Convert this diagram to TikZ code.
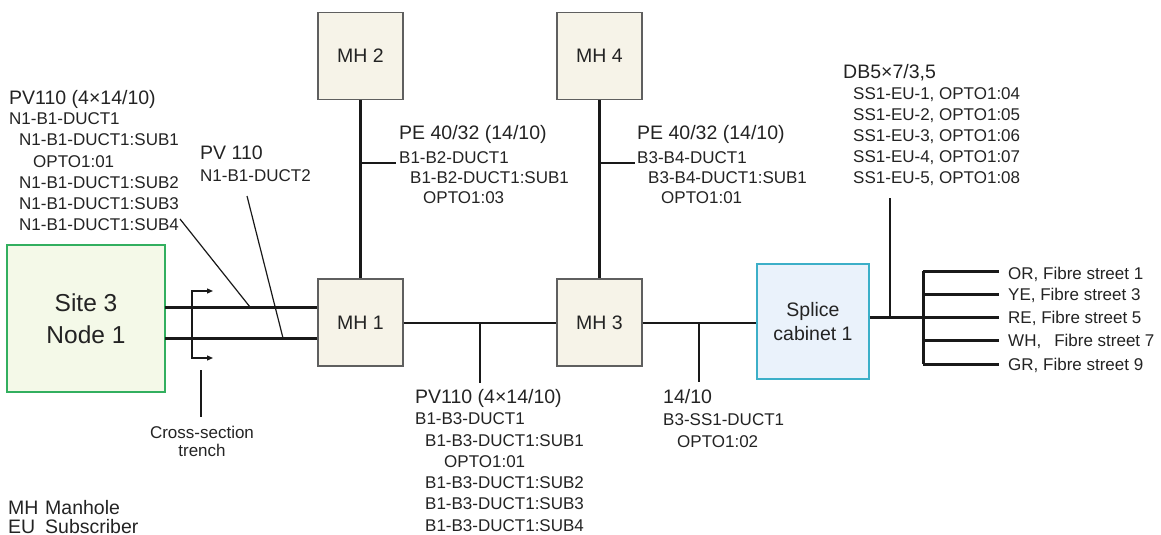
\documentclass[tikz,border=0pt]{standalone}
\usepackage{fontspec}
\setmainfont{Liberation Sans}
\usetikzlibrary{arrows.meta}
\definecolor{txt}{RGB}{35,35,35}
\definecolor{mhfill}{RGB}{246,243,232}
\definecolor{mhdraw}{RGB}{95,95,95}
\definecolor{sitefill}{RGB}{244,249,232}
\definecolor{sitedraw}{RGB}{50,175,95}
\definecolor{spfill}{RGB}{234,242,251}
\definecolor{spdraw}{RGB}{60,175,200}
\begin{document}
\begin{tikzpicture}[x=1pt,y=-1pt,
  mh/.style={draw=mhdraw, fill=mhfill, line width=1.2pt, minimum width=85pt, minimum height=87pt, inner sep=0pt, text=txt, font=\fontsize{19.5}{23}\selectfont},
  sm/.style={font=\fontsize{17}{21}\selectfont, anchor=base west, inner sep=0pt, text=txt},
  bg/.style={font=\fontsize{19.5}{23}\selectfont, anchor=base west, inner sep=0pt, text=txt},
  thk/.style={line width=3pt, black!90},
  med/.style={line width=2pt, black!90},
  thn/.style={line width=1.2pt, black!90}]
\useasboundingbox (0,0) rectangle (1161,535);

% boxes
\node[draw=sitedraw, fill=sitefill, line width=2pt, minimum width=158pt, minimum height=147pt, inner sep=0pt, align=center, text=txt, font=\fontsize{24.5}{32}\selectfont] (site) at (86,318.5) {Site 3\\Node 1};
\node[mh] (mh1) at (360.5,322.5) {MH 1};
\node[mh] (mh2) at (360.5,56) {MH 2};
\node[mh] (mh3) at (599.5,322.5) {MH 3};
\node[mh] (mh4) at (599.5,56) {MH 4};
\node[draw=spdraw, fill=spfill, line width=1.6pt, minimum width=112pt, minimum height=115pt, inner sep=0pt, align=center, text=txt, font=\fontsize{19.5}{24}\selectfont] (sp) at (813,321.5) {Splice\\cabinet 1};

% site to MH1 lines
\coordinate (s1) at (165,307); \coordinate (s2) at (165,338);
\draw[thk] (s1) -- (s1 -| mh1.west);
\draw[thk] (s2) -- (s2 -| mh1.west);

% verticals
\draw[thk] (mh2.south) -- (mh1.north);
\draw[thk] (mh4.south) -- (mh3.north);
\draw[med] (mh1.east) -- (mh3.west);
\draw[med] (mh3.east) -- (mh3.east -| sp.west);

% right fan
\coordinate (fj) at (923,317);
\draw[thk] (sp.east |- fj) -- (fj);
\coordinate (ft) at (923,271); \coordinate (fb) at (923,364);
\draw[thk] (ft) -- (fb);
\foreach \yy/\nm in {271/f1,294/f2,317/f3,340/f4,364/f5}{
  \coordinate (\nm a) at (923,\yy); \coordinate (\nm b) at (999,\yy);
  \draw[thk] (\nm a) -- (\nm b);
}
\node[sm] (fl1) at (1008,279) {OR, Fibre street 1};
\node[sm] (fl2) at (1008,300) {YE, Fibre street 3};
\node[sm] (fl3) at (1008,323) {RE, Fibre street 5};
\node[sm] (fl4) at (1008,346) {WH,\hspace{13pt}Fibre street 7};
\node[sm] (fl5) at (1008,370) {GR, Fibre street 9};

% leader ticks
\coordinate (t1a) at (361,163); \coordinate (t1b) at (396,163);
\draw[thn] (t1a) -- (t1b);
\coordinate (t2a) at (599,163); \coordinate (t2b) at (635,163);
\draw[thn] (t2a) -- (t2b);
\coordinate (t3a) at (480,322.5); \coordinate (t3b) at (480,383);
\draw[thn] (t3a) -- (t3b);
\coordinate (t4a) at (699,322.5); \coordinate (t4b) at (699,382);
\draw[thn] (t4a) -- (t4b);
\coordinate (t5a) at (890,317); \coordinate (t5b) at (890,198);
\draw[thn] (t5a) -- (t5b);
\coordinate (l1a) at (180,219); \coordinate (l1b) at (250,307);
\draw[thn] (l1a) -- (l1b);
\coordinate (l2a) at (247,196); \coordinate (l2b) at (283,338);
\draw[thn] (l2a) -- (l2b);

% cross-section
\coordinate (c1) at (213,291); \coordinate (c2) at (192,291);
\coordinate (c3) at (192,358); \coordinate (c4) at (213,358);
\draw[line width=1.3pt, black!90, {Triangle[length=6pt,width=5pt]}-{Triangle[length=6pt,width=5pt]}] (c1) -- (c2) -- (c3) -- (c4);
\coordinate (p1) at (201,370); \coordinate (p2) at (201,417);
\draw[thn] (p1) -- (p2);
\node[sm, anchor=base] (cs1) at (202,438) {Cross-section};
\node[sm, anchor=base] (cs2) at (202,456) {trench};

% left labels
\node[bg] (a0) at (9,104) {PV110 (4×14/10)};
\node[sm] (a1) at (9,124) {N1-B1-DUCT1};
\node[sm] (a2) at (19,145) {N1-B1-DUCT1:SUB1};
\node[sm] (a3) at (33,167) {OPTO1:01};
\node[sm] (a4) at (19,188) {N1-B1-DUCT1:SUB2};
\node[sm] (a5) at (19,209) {N1-B1-DUCT1:SUB3};
\node[sm] (a6) at (19,230) {N1-B1-DUCT1:SUB4};
\node[bg] (b0) at (200,159) {PV 110};
\node[sm] (b1) at (200,181) {N1-B1-DUCT2};

% MH2 labels
\node[bg] (c0) at (399,139) {PE 40/32 (14/10)};
\node[sm] (cl1) at (399,163) {B1-B2-DUCT1};
\node[sm] (cl2) at (410,183) {B1-B2-DUCT1:SUB1};
\node[sm] (cl3) at (423,203) {OPTO1:03};

% MH4 labels
\node[bg] (d0) at (637,139) {PE 40/32 (14/10)};
\node[sm] (d1) at (637,163) {B3-B4-DUCT1};
\node[sm] (d2) at (648,183) {B3-B4-DUCT1:SUB1};
\node[sm] (d3) at (661,203) {OPTO1:01};

% bottom labels
\node[bg] (e0) at (415,403) {PV110 (4×14/10)};
\node[sm] (e1) at (415,424) {B1-B3-DUCT1};
\node[sm] (e2) at (425,446) {B1-B3-DUCT1:SUB1};
\node[sm] (e3) at (444,467) {OPTO1:01};
\node[sm] (e4) at (425,488) {B1-B3-DUCT1:SUB2};
\node[sm] (e5) at (425,509) {B1-B3-DUCT1:SUB3};
\node[sm] (e6) at (425,531) {B1-B3-DUCT1:SUB4};

\node[bg] (g0) at (663,403) {14/10};
\node[sm] (g1) at (663,425) {B3-SS1-DUCT1};
\node[sm] (g2) at (677,447) {OPTO1:02};

% DB labels
\node[bg] (h0) at (843,78) {DB5×7/3,5};
\node[sm] (h1) at (853,99) {SS1-EU-1, OPTO1:04};
\node[sm] (h2) at (853,120) {SS1-EU-2, OPTO1:05};
\node[sm] (h3) at (853,141) {SS1-EU-3, OPTO1:06};
\node[sm] (h4) at (853,162) {SS1-EU-4, OPTO1:07};
\node[sm] (h5) at (853,183) {SS1-EU-5, OPTO1:08};

% legend
\node[bg] (k1) at (8,514) {\makebox[37pt][l]{MH}Manhole};
\node[bg] (k2) at (8,533) {\makebox[37pt][l]{EU}Subscriber};
\end{tikzpicture}
\end{document}
